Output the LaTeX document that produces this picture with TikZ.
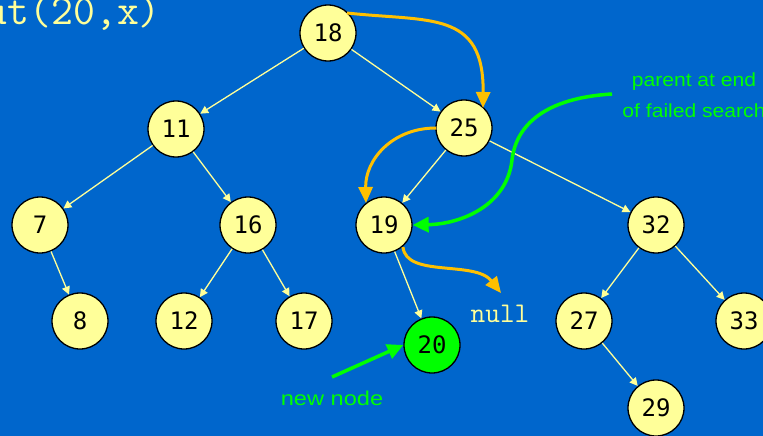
\documentclass[tikz,border=0pt]{standalone}
\usepackage{fontspec}
\usepackage{graphicx}
\usetikzlibrary{arrows.meta}
\newfontfamily\nodefont{DejaVu Sans Mono}
\setmainfont{Liberation Sans}
\definecolor{bgblue}{HTML}{0066CC}
\definecolor{nodeyellow}{HTML}{FFFF99}
\definecolor{arroworange}{HTML}{FFC000}
\definecolor{brightgreen}{HTML}{00FF00}
\tikzset{
  tnode/.style={circle, draw=black, line width=1.3pt, fill=nodeyellow, minimum size=56pt, inner sep=0pt, font=\nodefont\fontsize{24}{24}\selectfont},
  newnode/.style={tnode, fill=brightgreen},
  edge/.style={draw=nodeyellow, line width=1.3pt, -{Triangle[length=8pt,width=8pt]}},
  orangearrow/.style={draw=arroworange, line width=3pt, -{Triangle[length=16pt,width=14pt]}},
  greenarrow/.style={draw=brightgreen, line width=3.5pt, -{Triangle[length=16pt,width=15pt]}},
  greentext/.style={text=brightgreen, align=center, inner sep=0pt},
}
\begin{document}
\begin{tikzpicture}[x=1pt,y=-1pt]
\fill[bgblue] (0,0) rectangle (763,436);
\useasboundingbox (0,0) rectangle (763,436);
\clip (0,0) rectangle (763,436);

\node[anchor=base east, inner sep=0pt, text=nodeyellow, font=\ttfamily\fontsize{42.5}{42.5}\selectfont] (title) at (161,25) {put(20,x)};

\node[tnode] (n18) at (328,33) {18};
\node[tnode] (n11) at (176,129) {11};
\node[tnode] (n25) at (464,128) {25};
\node[tnode] (n7) at (40,225) {7};
\node[tnode] (n16) at (248,225) {16};
\node[tnode] (n19) at (384,225) {19};
\node[tnode] (n32) at (656,225) {32};
\node[tnode] (n8) at (80,321) {8};
\node[tnode] (n12) at (184,321) {12};
\node[tnode] (n17) at (304,321) {17};
\node[newnode] (n20) at (432,345) {20};
\node[tnode] (n27) at (584,321) {27};
\node[tnode] (n33) at (744,321) {33};
\node[tnode] (n29) at (656,408) {29};

\node[anchor=base, inner sep=0pt, text=nodeyellow, font=\ttfamily\fontsize{28.5}{28.5}\selectfont] (null) at (500,322) {null};

\draw[edge] (n18) -- (n11);
\draw[edge] (n18) -- (n25);
\draw[edge] (n11) -- (n7);
\draw[edge] (n11) -- (n16);
\draw[edge] (n7) -- (n8);
\draw[edge] (n16) -- (n12);
\draw[edge] (n16) -- (n17);
\draw[edge] (n25) -- (n19);
\draw[edge] (n25) -- (n32);
\draw[edge] (n19) -- (n20);
\draw[edge] (n32) -- (n27);
\draw[edge] (n32) -- (n33);
\draw[edge] (n27) -- (n29);

\coordinate (o1s) at (347,13);
\coordinate (o1e) at (483,108);
\draw[orangearrow] (o1s) .. controls (430,22) and (484,10) .. (o1e);
\coordinate (o2s) at (436,128);
\coordinate (o2e) at (366,203);
\draw[orangearrow] (o2s) .. controls (392,128) and (365,160) .. (o2e);
\coordinate (o3s) at (403,247);
\coordinate (o3e) at (501,293);
\draw[orangearrow] (o3s) .. controls (406,278) and (475,260) .. (o3e);

\node[greentext, anchor=base] (parent1) at (694,87) {\scalebox{1.11}[1]{\fontsize{19}{19}\selectfont parent at end}};
\node[greentext, anchor=base] (parent2) at (694,117) {\scalebox{1.11}[1]{\fontsize{19}{19}\selectfont of failed search}};
\coordinate (g1s) at (612,94);
\coordinate (g1m) at (512,160);
\draw[greenarrow] (g1s) .. controls (545,98) and (516,125) .. (g1m) .. controls (507,205) and (462,224) .. (n19.east);

\node[greentext, anchor=base] (newlabel) at (332,405) {\scalebox{1.18}[1]{\fontsize{20}{20}\selectfont new node}};
\coordinate (g2s) at (332,377);
\draw[greenarrow] (g2s) -- (n20.west);
\end{tikzpicture}
\end{document}
